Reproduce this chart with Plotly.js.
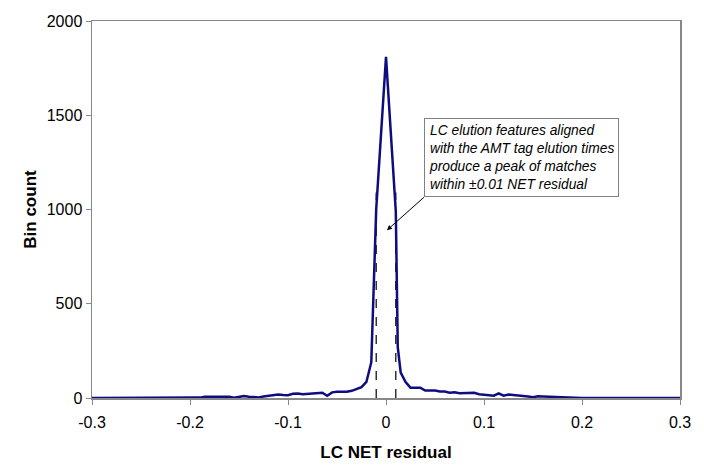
<!DOCTYPE html>
<html>
<head>
<meta charset="utf-8">
<script src="https://cdn.plot.ly/plotly-3.0.1.min.js"></script>
<style>
  html, body { margin: 0; padding: 0; background: #fff; }
  #chart { width: 704px; height: 474px; }
</style>
</head>
<body>
<div id="chart"></div>
<script>
// NET residual bins and their counts
const net_residual = [
  -0.3, -0.2, -0.195, -0.19, -0.185, -0.18, -0.175, -0.17, -0.165, -0.16,
  -0.155, -0.15, -0.145, -0.14, -0.135, -0.13, -0.125, -0.12, -0.115, -0.11,
  -0.105, -0.1, -0.095, -0.09, -0.085, -0.08, -0.075, -0.07, -0.065, -0.06,
  -0.055, -0.05, -0.045, -0.04, -0.035, -0.03, -0.025, -0.02, -0.015, -0.01,
  -0.005, 0, 0.005, 0.01, 0.012, 0.015, 0.02, 0.025, 0.03, 0.035,
  0.04, 0.045, 0.05, 0.055, 0.06, 0.065, 0.07, 0.075, 0.08, 0.085,
  0.09, 0.095, 0.1, 0.105, 0.11, 0.115, 0.12, 0.125, 0.13, 0.135,
  0.14, 0.145, 0.15, 0.155, 0.16, 0.165, 0.17, 0.175, 0.18, 0.185,
  0.19, 0.195, 0.2, 0.3,
];
const bin_count = [
  0, 0, 1, 2, 6, 6, 7, 4, 5, 7,
  1, 5, 10, 7, 4, 3, 8, 12, 17, 18,
  16, 15, 22, 24, 20, 22, 22, 26, 28, 12,
  30, 33, 33, 33, 38, 48, 58, 85, 190, 1000,
  1410, 1810, 1400, 990, 270, 135, 85, 55, 55, 55,
  40, 40, 40, 35, 34, 28, 30, 25, 25, 28,
  28, 20, 18, 14, 12, 25, 12, 18, 16, 14,
  12, 8, 4, 9, 8, 7, 7, 7, 6, 5,
  2, 0, 0, 0,
];

// dashed window marking +-0.01 NET residual
const window_edges = [-0.01, 0.01];
const window_height = 1090;

const x_ticks = [-0.3, -0.2, -0.1, 0, 0.1, 0.2, 0.3];
const x_tick_labels = ["-0.3", "-0.2", "-0.1", "0", "0.1", "0.2", "0.3"];
const y_ticks = [0, 500, 1000, 1500, 2000];

const annotation_text =
  "LC elution features aligned<br>with the AMT tag elution times<br>" +
  "produce a peak of matches<br>within ±0.01 NET residual";
const arrow_target = { x: 0.001, y: 890 };

const font_family = "Liberation Sans, Arial, sans-serif";

const histogram_line = {
  x: net_residual,
  y: bin_count,
  mode: "lines",
  type: "scatter",
  line: { color: "#0d0d80", width: 2.5 },
  hoverinfo: "skip",
};

const window_lines = window_edges.map(edge => ({
  x: [edge, edge],
  y: [0, window_height],
  mode: "lines",
  type: "scatter",
  line: { color: "#000000", width: 1.2, dash: "dash" },
  hoverinfo: "skip",
}));

const data = [...window_lines, histogram_line];

const layout = {
  width: 704,
  height: 474,
  margin: { l: 92, r: 24, t: 21, b: 76 },
  paper_bgcolor: "#ffffff",
  plot_bgcolor: "#ffffff",
  showlegend: false,
  font: { family: font_family, color: "#000000", size: 16 },
  xaxis: {
    range: [-0.3, 0.3],
    tickvals: x_ticks,
    ticktext: x_tick_labels,
    showgrid: false,
    zeroline: false,
    showline: true,
    linecolor: "#888888",
    linewidth: 1.5,
    mirror: true,
    ticks: "outside",
    ticklen: 5,
    tickcolor: "#888888",
    ticklabelstandoff: 4,
    tickfont: { size: 16 },
    title: { text: "<b>LC NET residual</b>", font: { size: 17 }, standoff: 16 },
  },
  yaxis: {
    range: [0, 2000],
    tickvals: y_ticks,
    showgrid: false,
    zeroline: false,
    showline: true,
    linecolor: "#888888",
    linewidth: 1.5,
    mirror: true,
    ticks: "outside",
    ticklen: 5,
    tickcolor: "#888888",
    tickfont: { size: 16 },
    title: { text: "<b>Bin count</b>", font: { size: 17 }, standoff: 6 },
  },
  annotations: [
    {
      x: arrow_target.x,
      y: arrow_target.y,
      xref: "x",
      yref: "y",
      text: annotation_text,
      align: "left",
      xanchor: "left",
      yanchor: "bottom",
      ax: 37,
      ay: -33,
      showarrow: true,
      arrowhead: 2,
      arrowsize: 1,
      arrowwidth: 1,
      arrowcolor: "#000000",
      bordercolor: "#808080",
      borderwidth: 1,
      borderpad: 4,
      bgcolor: "#ffffff",
      font: { family: font_family, size: 13.8, color: "#000000", style: "italic" },
    },
  ],
};

Plotly.newPlot("chart", data, layout, { displayModeBar: false, staticPlot: true });
</script>
</body>
</html>
